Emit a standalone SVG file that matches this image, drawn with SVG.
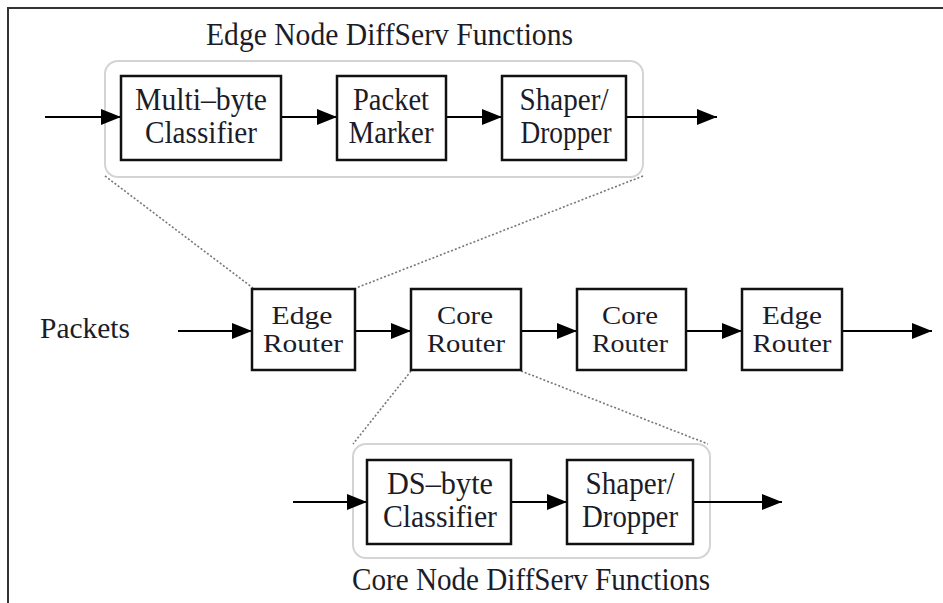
<svg xmlns="http://www.w3.org/2000/svg" width="943" height="603" viewBox="0 0 943 603">
<style>
.frame{fill:none;stroke:#333;stroke-width:2}
.grp{fill:none;stroke:#d4d4d4;stroke-width:2}
.box{fill:#fff;stroke:#111;stroke-width:2.5}
.t{font-family:"Liberation Serif","Times New Roman",serif;fill:#1c1c28;text-anchor:middle}
.big{font-size:31px}
.mid{font-size:25px}
.arr{stroke:#000;stroke-width:2;fill:none;marker-end:url(#ah)}
.dot{stroke:#777;stroke-width:1.6;stroke-dasharray:2 2;fill:none}
</style>
<defs>
<marker id="ah" markerWidth="20" markerHeight="16" refX="20" refY="8" orient="auto" markerUnits="userSpaceOnUse">
<path d="M0,0 L20,8 L0,16 z" fill="#000"/>
</marker>
</defs>
<rect width="943" height="603" fill="#fff"/>
<rect class="frame" x="8" y="8" width="1000" height="1000"/>

<g id="edge-functions">
<rect class="grp" x="105" y="61" width="538" height="116" rx="13"/>
<text class="t big" x="389.5" y="45" textLength="367" lengthAdjust="spacingAndGlyphs">Edge Node DiffServ Functions</text>
</g>
<g id="core-functions">
<rect class="grp" x="353" y="444" width="357" height="114" rx="13"/>
<text class="t big" x="531" y="590" textLength="358" lengthAdjust="spacingAndGlyphs">Core Node DiffServ Functions</text>
</g>

<g id="connectors">
<line class="dot" x1="105" y1="176" x2="253" y2="288"/>
<line class="dot" x1="643" y1="176" x2="356" y2="288"/>
<line class="dot" x1="411" y1="371" x2="353" y2="444"/>
<line class="dot" x1="521" y1="371" x2="708" y2="444"/>
<line class="arr" x1="45" y1="117" x2="121" y2="117"/>
<line class="arr" x1="281" y1="117" x2="337" y2="117"/>
<line class="arr" x1="446" y1="117" x2="502" y2="117"/>
<line class="arr" x1="626" y1="117" x2="717" y2="117"/>
<line class="arr" x1="178" y1="331" x2="252" y2="331"/>
<line class="arr" x1="355" y1="331" x2="411" y2="331"/>
<line class="arr" x1="521" y1="331" x2="577" y2="331"/>
<line class="arr" x1="686" y1="331" x2="742" y2="331"/>
<line class="arr" x1="842" y1="331" x2="932" y2="331"/>
<line class="arr" x1="293" y1="502" x2="367" y2="502"/>
<line class="arr" x1="511" y1="502" x2="567" y2="502"/>
<line class="arr" x1="693" y1="502" x2="782" y2="502"/>
</g>

<g id="multibyte-classifier">
<rect class="box" x="121" y="76" width="160" height="84"/>
<text class="t big" x="201" y="110" textLength="132" lengthAdjust="spacingAndGlyphs">Multi–byte</text>
<text class="t big" x="201" y="143" textLength="112" lengthAdjust="spacingAndGlyphs">Classifier</text>
</g>
<g id="packet-marker">
<rect class="box" x="337" y="76" width="109" height="84"/>
<text class="t big" x="391" y="110" textLength="76" lengthAdjust="spacingAndGlyphs">Packet</text>
<text class="t big" x="391" y="143" textLength="85" lengthAdjust="spacingAndGlyphs">Marker</text>
</g>
<g id="edge-shaper-dropper">
<rect class="box" x="502" y="76" width="124" height="84"/>
<text class="t big" x="564" y="110" textLength="89" lengthAdjust="spacingAndGlyphs">Shaper/</text>
<text class="t big" x="566" y="143" textLength="91" lengthAdjust="spacingAndGlyphs">Dropper</text>
</g>

<g id="packets-label">
<text class="t" style="font-size:29px" x="85" y="338" textLength="90" lengthAdjust="spacingAndGlyphs">Packets</text>
</g>
<g id="edge-router-1">
<rect class="box" x="252" y="289" width="103" height="81"/>
<text class="t mid" x="302" y="324" textLength="61" lengthAdjust="spacingAndGlyphs">Edge</text>
<text class="t mid" x="303" y="352" textLength="80" lengthAdjust="spacingAndGlyphs">Router</text>
</g>
<g id="core-router-1">
<rect class="box" x="411" y="289" width="110" height="81"/>
<text class="t mid" x="465" y="324" textLength="56" lengthAdjust="spacingAndGlyphs">Core</text>
<text class="t mid" x="466" y="352" textLength="78" lengthAdjust="spacingAndGlyphs">Router</text>
</g>
<g id="core-router-2">
<rect class="box" x="577" y="289" width="109" height="81"/>
<text class="t mid" x="630" y="324" textLength="56" lengthAdjust="spacingAndGlyphs">Core</text>
<text class="t mid" x="630" y="352" textLength="76" lengthAdjust="spacingAndGlyphs">Router</text>
</g>
<g id="edge-router-2">
<rect class="box" x="742" y="289" width="100" height="81"/>
<text class="t mid" x="792" y="324" textLength="60" lengthAdjust="spacingAndGlyphs">Edge</text>
<text class="t mid" x="792" y="352" textLength="79" lengthAdjust="spacingAndGlyphs">Router</text>
</g>

<g id="dsbyte-classifier">
<rect class="box" x="367" y="460" width="144" height="84"/>
<text class="t big" x="440" y="494" textLength="106" lengthAdjust="spacingAndGlyphs">DS–byte</text>
<text class="t big" x="440" y="527" textLength="114" lengthAdjust="spacingAndGlyphs">Classifier</text>
</g>
<g id="core-shaper-dropper">
<rect class="box" x="567" y="460" width="126" height="84"/>
<text class="t big" x="630" y="494" textLength="89" lengthAdjust="spacingAndGlyphs">Shaper/</text>
<text class="t big" x="630" y="527" textLength="96" lengthAdjust="spacingAndGlyphs">Dropper</text>
</g>
</svg>
